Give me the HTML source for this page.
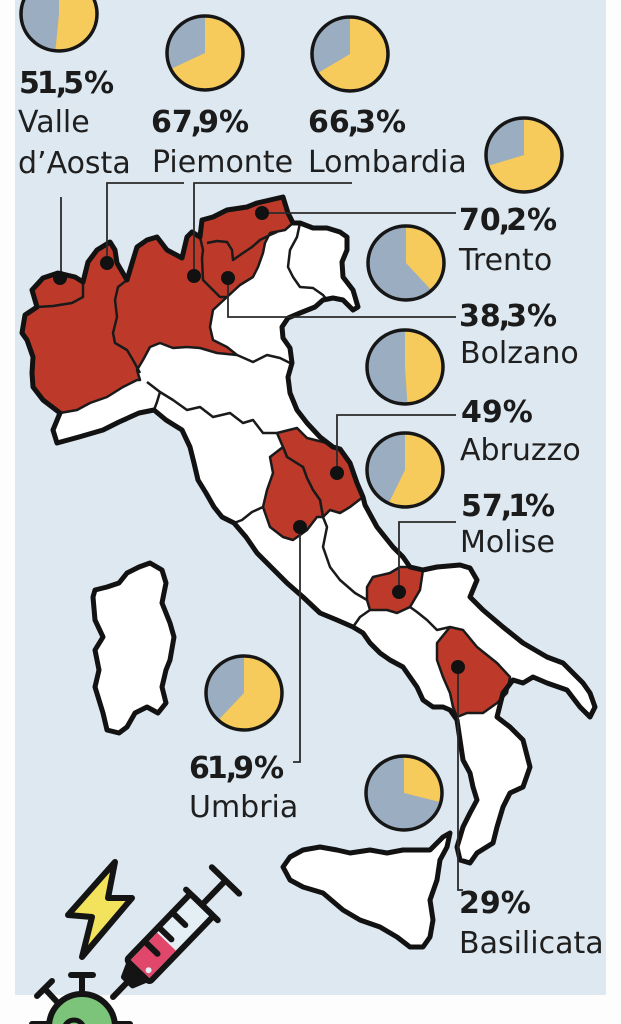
<!DOCTYPE html>
<html><head><meta charset="utf-8"><style>
html,body{margin:0;padding:0;background:#fdfdfd;}
svg{display:block;}
.pct{font-family:"DejaVu Sans","Liberation Sans",sans-serif;font-weight:bold;font-size:30px;fill:#1b1b1b;}
.nm{font-family:"DejaVu Sans","Liberation Sans",sans-serif;font-size:30px;fill:#1f1f1f;}
</style></head><body>
<svg width="621" height="1024" viewBox="0 0 621 1024" xmlns="http://www.w3.org/2000/svg">
<defs>
<polygon id="ml" points="32,290 43,278 58,273 75,277 83,282 88,262 97,250 110,242 115,250 117,263 127,280 133,260 137,247 147,240 157,237 167,250 182,258 187,237 192,232 200,237 202,220 213,217 227,210 247,207 257,203 270,200 283,197 288,213 293,223 300,223 313,228 327,228 340,232 347,237 347,250 342,262 343,277 353,290 358,307 353,310 343,300 333,298 323,300 315,307 300,313 288,318 282,327 283,338 290,348 292,363 288,377 290,393 297,410 307,423 320,437 333,447 340,449 350,463 357,483 363,497 365,505 377,527 393,547 403,557 410,567 423,570 437,567 460,565 470,568 477,580 470,597 483,610 503,627 523,643 547,657 563,663 583,683 590,693 595,707 590,717 580,707 567,690 547,683 533,677 523,683 513,680 503,693 497,717 510,727 523,740 530,767 523,787 510,793 503,807 497,827 493,843 477,853 470,863 460,860 457,847 463,827 470,813 477,800 473,787 470,773 463,760 460,740 457,720 450,710 443,707 433,707 423,700 417,687 410,677 403,667 390,660 380,653 370,643 363,633 353,627 337,620 320,613 303,597 287,583 277,573 257,553 246,537 234,523 222,517 214,507 206,493 198,480 194,463 190,447 182,430 166,420 154,410 139,413 119,422 103,430 79,437 57,443 53,430 60,413 43,400 33,387 32,373 33,357 27,340 22,333 25,315 37,307"/>
</defs>
<rect x="0" y="0" width="621" height="1024" fill="#fdfdfd"/>
<rect x="15" y="0" width="591" height="995" fill="#dde8f1"/>

<!-- islands -->
<g fill="#fff" stroke="#121212" stroke-width="5" stroke-linejoin="round">
<polygon points="150,563 162,570 166,583 162,603 170,623 174,637 170,660 166,670 162,687 166,703 158,713 147,707 135,713 127,727 119,733 107,730 103,713 99,700 95,687 99,670 95,650 103,637 95,620 93,597 95,590 107,587 119,583 127,573 139,567"/>
<polygon points="450,833 443,837 430,850 403,850 387,853 370,850 350,853 337,850 320,847 303,850 290,857 283,867 290,880 303,887 323,893 343,910 360,920 380,927 397,937 410,947 423,947 430,937 433,920 430,900 437,880 440,860 447,847"/>
</g>

<!-- mainland fill -->
<use href="#ml" fill="#fff" stroke="none"/>

<!-- red regions -->
<g fill="#bd3a2b" stroke="#1a1a1a" stroke-width="2.5" stroke-linejoin="round">
<polygon points="32,290 43,278 58,273 75,277 83,282 88,262 97,250 110,242 115,250 117,263 127,280 133,260 137,247 147,240 157,237 167,250 182,258 187,237 192,232 200,237 202,220 213,217 227,210 247,207 257,203 270,200 283,197 288,213 293,223 285,230 270,233 265,243 263,253 258,267 253,277 240,285 227,297 213,310 210,327 213,340 227,347 237,355 217,353 200,348 187,347 173,348 160,343 150,347 143,360 137,370 140,380 137,380 123,387 107,397 90,403 77,410 60,413 43,400 33,387 32,373 33,357 27,340 22,333 25,315 37,307"/>
<polygon points="277,433 297,428 307,438 327,443 340,449 350,463 357,483 363,497 350,507 340,513 330,510 323,517 320,500 313,490 307,478 303,467 287,457 283,447"/>
<polygon points="283,447 270,457 273,473 267,490 263,507 270,527 283,537 293,540 307,530 317,517 323,517 320,500 313,490 307,478 303,467 287,457"/>
<polygon points="367,587 373,577 390,573 400,567 410,567 423,570 420,590 410,607 397,613 387,610 370,610 367,600"/>
<polygon points="437,643 450,627 463,630 477,647 497,663 510,677 507,693 497,703 483,713 467,713 457,717 453,707 450,693 443,677 437,660"/>
</g>

<!-- internal borders -->
<g fill="none" stroke="#1a1a1a" stroke-width="2.5" stroke-linejoin="round">
<polyline points="37,307 53,306 72,303 83,297 83,282"/>
<polyline points="127,280 118,287 115,300 117,317 113,333 115,343 127,350 133,360 140,373"/>
<polyline points="200,237 203,250 202,258 203,280 213,290 220,297 227,297"/>
<polyline points="207,243 217,241 227,242 232,250 233,260 243,253 252,247 260,240 270,235 277,232"/>
<polyline points="147,382 160,392 173,400 187,410 200,407 213,417 230,413 243,423 253,420 263,433 277,433"/>
<polyline points="160,392 157,402 154,410"/>
<polyline points="263,507 252,512 242,520 234,523"/>
<polyline points="323,517 327,527 323,547 330,567 340,580 355,593 367,600"/>
<polyline points="370,610 360,617 353,627"/>
<polyline points="410,607 417,612 427,620 437,630 450,627"/>
<polyline points="237,355 253,362 267,355 280,358 290,363"/>
<polyline points="300,223 297,237 290,250 288,267 293,277 300,287 313,288 323,295 327,300"/>
</g>

<!-- mainland outline -->
<use href="#ml" fill="none" stroke="#121212" stroke-width="5" stroke-linejoin="round"/>

<!-- leader lines -->
<g fill="none" stroke="#2a2a2a" stroke-width="1.8">
<path d="M61,197 V278"/>
<path d="M184,183 H107 V263"/>
<path d="M352,183 H194 V276"/>
<path d="M262,213 H456"/>
<path d="M228,278 V317 H456"/>
<path d="M337,473 V415 H456"/>
<path d="M399,592 V522 H456"/>
<path d="M300,527 V762 H293"/>
<path d="M458,667 V890 H463"/>
</g>
<g fill="#111">
<circle cx="60" cy="278" r="7"/>
<circle cx="107" cy="263" r="7"/>
<circle cx="194" cy="276" r="7"/>
<circle cx="262" cy="213" r="7"/>
<circle cx="228" cy="278" r="7"/>
<circle cx="337" cy="473" r="7"/>
<circle cx="399" cy="592" r="7"/>
<circle cx="300" cy="527" r="7"/>
<circle cx="458" cy="667" r="7"/>
</g>

<!-- pies -->
<g stroke="none">
<ellipse cx="59" cy="14" rx="38" ry="37" fill="#9badc0"/>
<path d="M59,14 L59,-23 A38,37 0 1 1 55.4,50.8 Z" fill="#f6ca5b"/>
<ellipse cx="205" cy="53" rx="38" ry="37" fill="#9badc0"/>
<path d="M205,53 L205,16 A38,37 0 1 1 170.7,69 Z" fill="#f6ca5b"/>
<ellipse cx="350" cy="54" rx="38" ry="37" fill="#9badc0"/>
<path d="M350,54 L350,17 A38,37 0 1 1 317.5,73.2 Z" fill="#f6ca5b"/>
<ellipse cx="524" cy="155" rx="38" ry="37" fill="#9badc0"/>
<path d="M524,155 L524,118 A38,37 0 1 1 487.7,166 Z" fill="#f6ca5b"/>
<ellipse cx="406" cy="263" rx="38" ry="37" fill="#9badc0"/>
<path d="M406,263 L406,226 A38,37 0 0 1 431.5,290.4 Z" fill="#f6ca5b"/>
<ellipse cx="405" cy="367" rx="38" ry="37" fill="#9badc0"/>
<path d="M405,367 L405,330 A38,37 0 0 1 407.4,403.9 Z" fill="#f6ca5b"/>
<ellipse cx="405" cy="470" rx="38" ry="37" fill="#9badc0"/>
<path d="M405,470 L405,433 A38,37 0 1 1 388.6,503.4 Z" fill="#f6ca5b"/>
<ellipse cx="244" cy="693" rx="38" ry="37" fill="#9badc0"/>
<path d="M244,693 L244,656 A38,37 0 1 1 218.2,720.2 Z" fill="#f6ca5b"/>
<ellipse cx="404" cy="793" rx="38" ry="37" fill="#9badc0"/>
<path d="M404,793 L404,756 A38,37 0 0 1 440.8,802.2 Z" fill="#f6ca5b"/>
</g>
<g fill="none" stroke="#161616" stroke-width="3.5">
<ellipse cx="59" cy="14" rx="38" ry="37"/>
<ellipse cx="205" cy="53" rx="38" ry="37"/>
<ellipse cx="350" cy="54" rx="38" ry="37"/>
<ellipse cx="524" cy="155" rx="38" ry="37"/>
<ellipse cx="406" cy="263" rx="38" ry="37"/>
<ellipse cx="405" cy="367" rx="38" ry="37"/>
<ellipse cx="405" cy="470" rx="38" ry="37"/>
<ellipse cx="244" cy="693" rx="38" ry="37"/>
<ellipse cx="404" cy="793" rx="38" ry="37"/>
</g>

<!-- labels -->
<text class="pct" x="19" y="93">5<tspan dx="-3">1</tspan><tspan dx="-2">,</tspan><tspan dx="-4">5%</tspan></text>
<text class="nm" x="18" y="132">Valle</text>
<text class="nm" x="18" y="173">d’Aosta</text>
<text class="pct" x="151" y="132">67<tspan dx="-2">,</tspan><tspan dx="-4">9%</tspan></text>
<text class="nm" x="152" y="172">Piemonte</text>
<text class="pct" x="308" y="132">66<tspan dx="-2">,</tspan><tspan dx="-4">3%</tspan></text>
<text class="nm" x="308" y="172">Lombardia</text>
<text class="pct" x="459" y="230">70<tspan dx="-2">,</tspan><tspan dx="-4">2%</tspan></text>
<text class="nm" x="459" y="270">Trento</text>
<text class="pct" x="459" y="326">38<tspan dx="-2">,</tspan><tspan dx="-4">3%</tspan></text>
<text class="nm" x="460" y="363">Bolzano</text>
<text class="pct" x="461" y="422">49%</text>
<text class="nm" x="460" y="460">Abruzzo</text>
<text class="pct" x="461" y="516">57<tspan dx="-2">,</tspan><tspan dx="-4">1</tspan><tspan dx="-4">%</tspan></text>
<text class="nm" x="460" y="552">Molise</text>
<text class="pct" x="189" y="778">6<tspan dx="-3">1</tspan><tspan dx="-2">,</tspan><tspan dx="-4">9%</tspan></text>
<text class="nm" x="189" y="817">Umbria</text>
<text class="pct" x="459" y="913">29%</text>
<text class="nm" x="459" y="953">Basilicata</text>

<!-- icon: lightning -->
<polygon points="115,862 68,915 92,917 82,957 132,898 108,898" fill="#f3e35c" stroke="#141414" stroke-width="6" stroke-linejoin="round"/>

<!-- icon: virus -->
<g stroke="#141414" stroke-width="6" stroke-linecap="round">
<line x1="82" y1="993" x2="82" y2="976"/>
<line x1="71" y1="975" x2="93" y2="975"/>
<line x1="58" y1="1003" x2="45" y2="989"/>
<line x1="37" y1="996" x2="52" y2="981"/>
<line x1="49" y1="1024" x2="32" y2="1024"/>
<line x1="115" y1="1024" x2="130" y2="1024"/>
</g>
<circle cx="82" cy="1027" r="33" fill="#7cc47a" stroke="#141414" stroke-width="6"/>
<circle cx="74" cy="1030" r="10" fill="none" stroke="#141414" stroke-width="5"/>

<!-- icon: syringe -->
<g transform="translate(113,997) rotate(-46)" stroke="#141414" stroke-width="6" stroke-linejoin="round" stroke-linecap="round">
<line x1="0" y1="0" x2="22" y2="0"/>
<polygon points="22,-6 36,-12 36,12 22,6" fill="#141414"/>
<rect x="36" y="-16" width="92" height="32" rx="3" fill="#e3eef5"/>
<rect x="39" y="-13" width="38" height="26" fill="#e0476a" stroke="none"/>
<circle cx="44" cy="7" r="3" fill="#e3eef5" stroke="none"/>
<line x1="62" y1="-16" x2="62" y2="2"/>
<line x1="82" y1="-16" x2="82" y2="2"/>
<line x1="102" y1="-16" x2="102" y2="2"/>
<line x1="128" y1="-22" x2="128" y2="22"/>
<line x1="128" y1="0" x2="160" y2="0"/>
<line x1="162" y1="-19" x2="162" y2="19"/>
</g>
</svg>
</body></html>
